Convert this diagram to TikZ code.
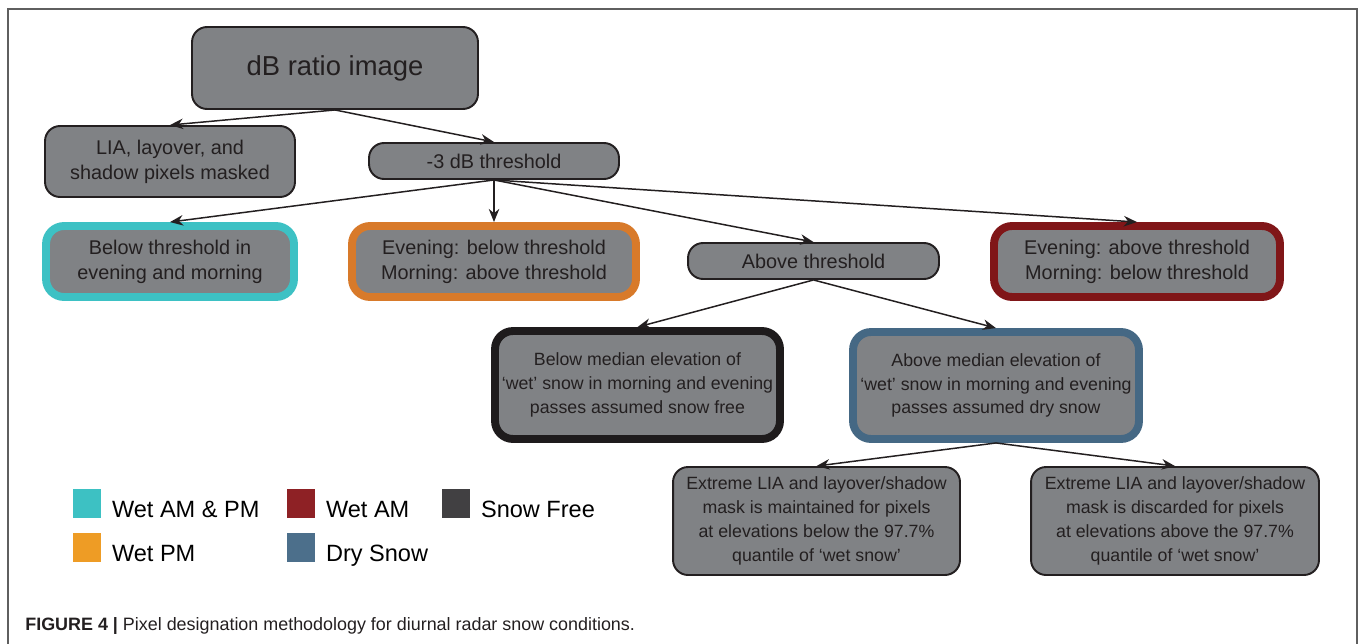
\documentclass[tikz,border=0pt]{standalone}
\usepackage{fontspec}
\setmainfont{Liberation Sans}
\usepackage{tikz}
\usetikzlibrary{arrows.meta, calc}

\definecolor{boxgray}{RGB}{128,130,133}
\definecolor{edgedark}{RGB}{35,31,32}
\definecolor{framegray}{RGB}{95,95,95}
\definecolor{wetboth}{RGB}{61,193,196}
\definecolor{wetpm}{RGB}{216,122,42}
\definecolor{wetam}{RGB}{128,22,24}
\definecolor{snowfree}{RGB}{30,27,28}
\definecolor{drysnow}{RGB}{69,104,132}
\definecolor{keywetboth}{RGB}{61,193,195}
\definecolor{keywetpm}{RGB}{238,156,37}
\definecolor{keywetam}{RGB}{142,33,37}
\definecolor{keysnowfree}{RGB}{65,64,66}
\definecolor{keydrysnow}{RGB}{76,111,139}

\begin{document}
\begin{tikzpicture}[
    x=0.02cm, y=-0.02cm,
    >={Stealth[length=7.5pt, width=6pt]},
    box/.style={rectangle, draw=edgedark, line width=1.1pt, rounded corners=0.3cm,
                fill=boxgray, align=center, text=edgedark, inner sep=0pt,
                font=\fontsize{11.3}{14.2}\selectfont},
    classbox/.style={box, line width=4.5pt, rounded corners=0.36cm},
    smalltext/.style={font=\fontsize{10.1}{13.6}\selectfont},
    link/.style={->, line width=0.85pt, draw=edgedark},
    swatch/.style={rectangle, inner sep=0pt, minimum width=0.56cm, minimum height=0.58cm},
    keytext/.style={anchor=base west, inner sep=0pt, font=\fontsize{13.4}{16}\selectfont, text=black}
]
\useasboundingbox (0,0) rectangle (1358,643);
\draw[framegray, line width=0.9pt] (8,660) -- (8,9) -- (1357,9) -- (1357,660);

% flow boxes
\node[box, minimum width=5.72cm, minimum height=1.64cm,
      font=\fontsize{15.6}{18}\selectfont] (dbimg) at (335,68) {dB ratio image};
\node[box, minimum width=5.0cm, minimum height=1.42cm] (mask) at (170,161.5)
    {LIA, layover, and\\shadow pixels masked};
\node[box, minimum width=5.0cm, minimum height=0.72cm] (thr) at (494,161) {-3 dB threshold};
\node[classbox, draw=wetboth, minimum width=4.96cm, minimum height=1.42cm] (both) at (170,261.5)
    {Below threshold in\\evening and morning};
\node[classbox, draw=wetpm, minimum width=5.68cm, minimum height=1.42cm] (pm) at (494,261.5)
    {Evening: below threshold\\Morning: above threshold};
\node[box, minimum width=5.02cm, minimum height=0.72cm] (above) at (813.5,261) {Above threshold};
\node[classbox, draw=wetam, minimum width=5.72cm, minimum height=1.42cm] (am) at (1137,261.5)
    {Evening: above threshold\\Morning: below threshold};
\node[classbox, smalltext, draw=snowfree, minimum width=5.7cm, minimum height=2.16cm] (free) at (637.5,385)
    {Below median elevation of\\‘wet’ snow in morning and evening\\passes assumed snow free};
\node[classbox, smalltext, draw=drysnow, minimum width=5.72cm, minimum height=2.14cm] (dry) at (996,385.5)
    {Above median elevation of\\‘wet’ snow in morning and evening\\passes assumed dry snow};
\node[box, smalltext, minimum width=5.74cm, minimum height=2.16cm] (keep) at (816.5,521)
    {Extreme LIA and layover/shadow\\mask is maintained for pixels\\at elevations below the 97.7\%\\quantile of ‘wet snow’};
\node[box, smalltext, minimum width=5.76cm, minimum height=2.16cm] (drop) at (1175,521)
    {Extreme LIA and layover/shadow\\mask is discarded for pixels\\at elevations above the 97.7\%\\quantile of ‘wet snow’};

% connectors
\draw[link] (dbimg.south) -- (mask.north);
\draw[link] (dbimg.south) -- (thr.north);
\foreach \to in {both,pm,above,am} {
    \draw[link] (thr.south) -- (\to.north);
}
\draw[link] (above.south) -- (free.north);
\draw[link] (above.south) -- (dry.north);
\draw[link] (dry.south) -- (keep.north);
\draw[link] (dry.south) -- (drop.north);

% legend
\foreach \nm/\col/\px/\py/\lab in {
    k1/keywetboth/73/489/Wet AM \& PM,
    k2/keywetam/287/489/Wet AM,
    k3/keysnowfree/442/489/Snow Free,
    k4/keywetpm/73/533/Wet PM,
    k5/keydrysnow/287/533/Dry Snow} {
    \node[swatch, fill=\col, anchor=north west] (sw-\nm) at (\px,\py) {};
    \node[keytext] (lab-\nm) at ($(sw-\nm.south east)+(10,-1)$) {\lab};
}

% caption
\node[anchor=base west, inner sep=0pt, text=edgedark, font=\fontsize{10.2}{12}\selectfont]
    (caption) at (25,630)
    {\textbf{FIGURE 4 |} Pixel designation methodology for diurnal radar snow conditions.};
\end{tikzpicture}
\end{document}
